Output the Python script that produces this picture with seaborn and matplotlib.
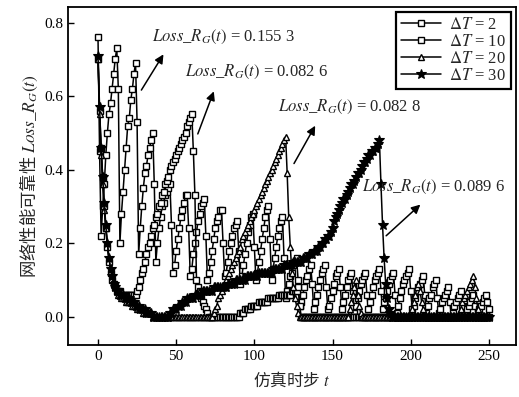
import numpy as np
import pandas as pd
import matplotlib
matplotlib.use("Agg")
import matplotlib.pyplot as plt
import seaborn as sns

sns.set_theme(style="ticks")
plt.rcParams['font.family'] = ['Liberation Serif', 'Noto Sans CJK SC', 'DejaVu Sans']
plt.rcParams['mathtext.fontset'] = 'stix'

# ---------------- data ----------------
steps = list(range(0, 251))

loss_dt2 = [
    0.76, 0.45, 0.22, 0.30, 0.36, 0.44, 0.50, 0.55, 0.58, 0.62,
    0.66, 0.70, 0.73, 0.62, 0.20, 0.28, 0.34, 0.40, 0.46, 0.52,
    0.54, 0.59, 0.62, 0.66, 0.69, 0.53, 0.17, 0.24, 0.30, 0.35,
    0.39, 0.41, 0.44, 0.46, 0.48, 0.50, 0.36, 0.15, 0.20, 0.24,
    0.27, 0.30, 0.31, 0.33, 0.34, 0.35, 0.36, 0.25, 0.12, 0.14,
    0.18, 0.21, 0.24, 0.27, 0.29, 0.31, 0.33, 0.33, 0.24, 0.11,
    0.13, 0.17, 0.20, 0.23, 0.26, 0.28, 0.30, 0.31, 0.32, 0.22,
    0.10, 0.12, 0.15, 0.18, 0.21, 0.24, 0.26, 0.27, 0.29, 0.29,
    0.20, 0.11, 0.12, 0.15, 0.18, 0.20, 0.22, 0.24, 0.25, 0.26,
    0.18, 0.09, 0.11, 0.14, 0.17, 0.20, 0.23, 0.25, 0.27, 0.28,
    0.19, 0.10, 0.12, 0.15, 0.18, 0.21, 0.24, 0.27, 0.29, 0.30,
    0.21, 0.10, 0.13, 0.16, 0.19, 0.22, 0.24, 0.26, 0.27, 0.16,
    0.05, 0.07, 0.09, 0.11, 0.12, 0.14, 0.15, 0.16, 0.10, 0.03,
    0.04, 0.06, 0.08, 0.10, 0.11, 0.13, 0.14, 0.09, 0.02, 0.04,
    0.06, 0.08, 0.10, 0.12, 0.13, 0.14, 0.08, 0.02, 0.03, 0.05,
    0.07, 0.09, 0.11, 0.12, 0.13, 0.08, 0.02, 0.04, 0.06, 0.08,
    0.10, 0.11, 0.12, 0.07, 0.01, 0.03, 0.05, 0.07, 0.09, 0.10,
    0.11, 0.12, 0.06, 0.02, 0.04, 0.06, 0.08, 0.10, 0.11, 0.12,
    0.13, 0.07, 0.02, 0.04, 0.05, 0.07, 0.09, 0.10, 0.11, 0.12,
    0.06, 0.01, 0.03, 0.05, 0.07, 0.09, 0.10, 0.11, 0.12, 0.13,
    0.07, 0.02, 0.03, 0.05, 0.07, 0.08, 0.09, 0.10, 0.11, 0.06,
    0.01, 0.03, 0.05, 0.06, 0.08, 0.09, 0.10, 0.05, 0.01, 0.02,
    0.04, 0.05, 0.06, 0.07, 0.08, 0.04, 0.00, 0.01, 0.03, 0.04,
    0.05, 0.06, 0.07, 0.03, 0.00, 0.01, 0.02, 0.03, 0.04, 0.05,
    0.06, 0.03, 0.00, 0.01, 0.02, 0.03, 0.04, 0.05, 0.06, 0.04,
    0.02,
]

loss_dt10 = [
    0.70, 0.56, 0.46, 0.38, 0.30, 0.24, 0.19, 0.15, 0.12, 0.10,
    0.09, 0.08, 0.07, 0.07, 0.07, 0.06, 0.06, 0.06, 0.06, 0.06,
    0.06, 0.06, 0.06, 0.06, 0.06, 0.07, 0.08, 0.10, 0.12, 0.13,
    0.15, 0.17, 0.19, 0.20, 0.22, 0.24, 0.25, 0.27, 0.28, 0.30,
    0.31, 0.33, 0.34, 0.36, 0.37, 0.38, 0.40, 0.41, 0.42, 0.43,
    0.44, 0.45, 0.46, 0.47, 0.48, 0.49, 0.50, 0.52, 0.53, 0.54,
    0.55, 0.45, 0.33, 0.10, 0.08, 0.07, 0.05, 0.04, 0.03, 0.02,
    0.01, 0.00, 0.00, 0.00, 0.00, 0.00, 0.00, 0.00, 0.00, 0.00,
    0.00, 0.00, 0.00, 0.00, 0.00, 0.00, 0.00, 0.00, 0.00, 0.00,
    0.00, 0.01, 0.01, 0.01, 0.02, 0.02, 0.02, 0.02, 0.03, 0.03,
    0.03, 0.03, 0.03, 0.04, 0.04, 0.04, 0.04, 0.04, 0.04, 0.05,
    0.05, 0.05, 0.05, 0.05, 0.05, 0.05, 0.06, 0.06, 0.06, 0.06,
    0.06, 0.06, 0.06, 0.06, 0.07, 0.07, 0.07, 0.07, 0.08, 0.03,
] + [0.00] * 121

loss_dt20 = [
    0.70, 0.55, 0.44, 0.36, 0.29, 0.24, 0.20, 0.16, 0.13, 0.11,
    0.09, 0.08, 0.07, 0.06, 0.06, 0.05, 0.05, 0.05, 0.04, 0.04,
    0.04, 0.04, 0.03, 0.03, 0.03, 0.02, 0.02, 0.02, 0.02, 0.01,
    0.01, 0.01, 0.01, 0.01, 0.01, 0.00, 0.00, 0.00, 0.00, 0.00,
    0.00, 0.00, 0.00, 0.00, 0.00, 0.00, 0.00, 0.00, 0.00, 0.00,
    0.00, 0.00, 0.00, 0.00, 0.00, 0.00, 0.00, 0.00, 0.00, 0.00,
    0.00, 0.00, 0.00, 0.00, 0.00, 0.00, 0.00, 0.00, 0.00, 0.00,
    0.00, 0.00, 0.00, 0.00, 0.01, 0.02, 0.03, 0.05, 0.06, 0.07,
    0.08, 0.09, 0.10, 0.11, 0.12, 0.13, 0.14, 0.15, 0.16, 0.17,
    0.18, 0.19, 0.21, 0.22, 0.23, 0.24, 0.25, 0.26, 0.27, 0.28,
    0.29, 0.30, 0.31, 0.32, 0.33, 0.34, 0.35, 0.36, 0.37, 0.38,
    0.39, 0.40, 0.41, 0.42, 0.43, 0.44, 0.45, 0.46, 0.47, 0.48,
    0.49, 0.39, 0.27, 0.19, 0.12, 0.08, 0.05, 0.03, 0.01, 0.00,
    0.00, 0.00, 0.00, 0.00, 0.00, 0.00, 0.00, 0.00, 0.00, 0.00,
    0.00, 0.00, 0.00, 0.00, 0.00, 0.00, 0.00, 0.00, 0.00, 0.00,
    0.00, 0.00, 0.00, 0.00, 0.00, 0.00, 0.00, 0.00, 0.00, 0.00,
    0.00, 0.02, 0.04, 0.06, 0.08, 0.10, 0.06, 0.03, 0.01, 0.00,
    0.00, 0.00, 0.00, 0.00, 0.00, 0.00, 0.00, 0.00, 0.00, 0.00,
    0.00, 0.00, 0.00, 0.00, 0.00, 0.00, 0.00, 0.00, 0.00, 0.00,
    0.00, 0.00, 0.00, 0.00, 0.00, 0.00, 0.00, 0.00, 0.00, 0.00,
    0.00, 0.02, 0.04, 0.06, 0.08, 0.09, 0.07, 0.04, 0.02, 0.00,
    0.00, 0.00, 0.00, 0.00, 0.00, 0.00, 0.00, 0.00, 0.00, 0.00,
    0.00, 0.00, 0.00, 0.00, 0.00, 0.00, 0.00, 0.00, 0.00, 0.00,
    0.00, 0.01, 0.02, 0.04, 0.05, 0.06, 0.07, 0.08, 0.09, 0.10,
    0.11, 0.08, 0.05, 0.02, 0.00, 0.00, 0.00, 0.00, 0.00, 0.00,
    0.00,
]

loss_dt30 = [
    0.71, 0.57, 0.46, 0.38, 0.31, 0.25, 0.20, 0.16, 0.13, 0.11,
    0.09, 0.08, 0.07, 0.07, 0.06, 0.06, 0.06, 0.05, 0.05, 0.05,
    0.05, 0.04, 0.04, 0.04, 0.03, 0.03, 0.03, 0.02, 0.02, 0.02,
    0.02, 0.01, 0.01, 0.01, 0.01, 0.00, 0.00, 0.00, 0.00, 0.00,
    0.00, 0.00, 0.00, 0.00, 0.00, 0.00, 0.01, 0.01, 0.02, 0.02,
    0.02, 0.03, 0.03, 0.03, 0.04, 0.04, 0.04, 0.05, 0.05, 0.05,
    0.05, 0.05, 0.06, 0.06, 0.06, 0.06, 0.06, 0.07, 0.07, 0.07,
    0.07, 0.07, 0.07, 0.07, 0.08, 0.08, 0.08, 0.08, 0.08, 0.08,
    0.08, 0.08, 0.08, 0.09, 0.09, 0.09, 0.09, 0.09, 0.10, 0.10,
    0.10, 0.10, 0.10, 0.10, 0.10, 0.11, 0.11, 0.11, 0.11, 0.11,
    0.11, 0.11, 0.11, 0.12, 0.12, 0.12, 0.12, 0.12, 0.12, 0.12,
    0.12, 0.12, 0.13, 0.13, 0.13, 0.13, 0.13, 0.13, 0.13, 0.14,
    0.14, 0.14, 0.14, 0.14, 0.14, 0.15, 0.15, 0.15, 0.15, 0.15,
    0.15, 0.16, 0.16, 0.16, 0.16, 0.17, 0.17, 0.17, 0.18, 0.18,
    0.18, 0.19, 0.19, 0.20, 0.20, 0.21, 0.21, 0.22, 0.22, 0.23,
    0.24, 0.26, 0.27, 0.28, 0.29, 0.30, 0.31, 0.32, 0.32, 0.33,
    0.34, 0.35, 0.36, 0.36, 0.37, 0.38, 0.39, 0.39, 0.40, 0.41,
    0.42, 0.42, 0.43, 0.44, 0.44, 0.45, 0.45, 0.46, 0.46, 0.47,
    0.48, 0.36, 0.25, 0.16, 0.09, 0.05, 0.02, 0.01, 0.00, 0.00,
] + [0.00] * 61

series_labels = [r'$\Delta T$ = 2', r'$\Delta T$ = 10', r'$\Delta T$ = 20', r'$\Delta T$ = 30']

annot_texts = [r'$Loss\_R_G(t)$ = 0.155 3', r'$Loss\_R_G(t)$ = 0.082 6',
               r'$Loss\_R_G(t)$ = 0.082 8', r'$Loss\_R_G(t)$ = 0.089 6']
annot_text_pos = [(34.5, 0.76), (55.6, 0.665), (115.1, 0.57), (168.8, 0.352)]
annot_tail = [(26.8, 0.61), (63.2, 0.49), (124.5, 0.41), (183.0, 0.215)]
annot_head = [(42.8, 0.72), (74.7, 0.62), (139.8, 0.526), (207.5, 0.31)]

x_ticks = [0, 50, 100, 150, 200, 250]
y_ticks = [0.0, 0.2, 0.4, 0.6, 0.8]

# ---------------- figure ----------------
fig = plt.figure(figsize=(5.19, 3.97), dpi=100)
ax = fig.add_axes([0.131, 0.131, 0.863, 0.851])

styles = [
    dict(marker='s', markersize=4.4, markerfacecolor='white', markeredgecolor='black', markeredgewidth=1.0),
    dict(marker='s', markersize=3.8, markerfacecolor='white', markeredgecolor='black', markeredgewidth=1.0),
    dict(marker='^', markersize=5.0, markerfacecolor='white', markeredgecolor='black', markeredgewidth=1.0),
    dict(marker='*', markersize=7.0, markerfacecolor='black', markeredgecolor='black', markeredgewidth=0.8),
]
all_series = [loss_dt2, loss_dt10, loss_dt20, loss_dt30]

for vals, lab, st in zip(all_series, series_labels, styles):
    df = pd.DataFrame({'t': steps, 'loss': vals})
    sns.lineplot(data=df, x='t', y='loss', ax=ax, color='black', linewidth=1.1,
                 estimator=None, sort=False, label=lab, **st)

ax.set_xlim(-19.2, 267.3)
ax.set_ylim(-0.077, 0.842)
ax.set_xticks(x_ticks)
ax.set_xticklabels([str(v) for v in x_ticks])
ax.set_yticks(y_ticks)
ax.set_yticklabels([f'{v:.1f}' for v in y_ticks])
ax.tick_params(direction='in', length=4, width=1, labelsize=11, colors='black')
for sp in ax.spines.values():
    sp.set_visible(True)
    sp.set_linewidth(1.3)
    sp.set_color('black')

ax.set_xlabel('仿真时步 $t$', family='Noto Sans CJK SC', fontsize=12, labelpad=5)
ax.set_ylabel('网络性能可靠性 $Loss\\_R_G(t)$', family='Noto Sans CJK SC', fontsize=12.5, labelpad=3)

for txt, tp, tail, head in zip(annot_texts, annot_text_pos, annot_tail, annot_head):
    ax.text(tp[0], tp[1], txt, fontsize=12, ha='left', va='center', family='Liberation Serif')
    ax.annotate('', xy=head, xytext=tail,
                arrowprops=dict(arrowstyle='-|>', color='black', lw=1.1, mutation_scale=13))

leg = ax.legend(loc='upper right', frameon=True, fancybox=False, fontsize=12,
                handlelength=2.4, borderaxespad=0.3, labelspacing=0.05,
                handletextpad=0.5, borderpad=0.3)
leg.get_frame().set_edgecolor('black')
leg.get_frame().set_linewidth(1.6)
leg.get_frame().set_facecolor('white')
leg.get_frame().set_alpha(1)

fig.savefig('out.png', dpi=100)
